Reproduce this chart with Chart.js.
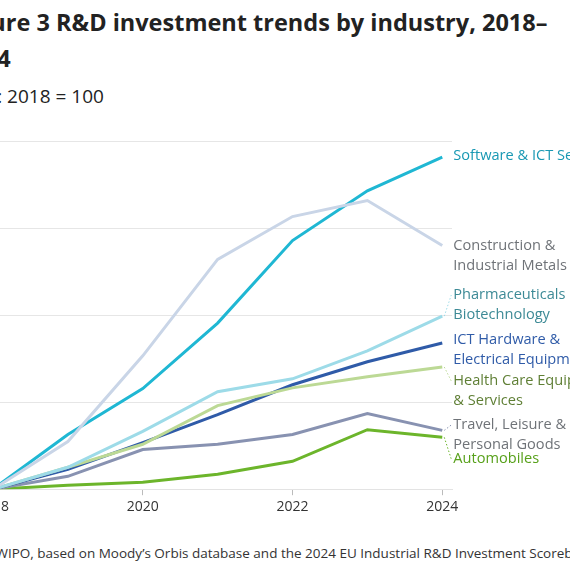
<!DOCTYPE html>
<html>
<head>
<meta charset="utf-8">
<script src="https://cdn.jsdelivr.net/npm/chart.js"></script>
<style>
  body { margin: 0; width: 570px; height: 570px; overflow: hidden; position: relative; background: #fff; font-family: "Open Sans", sans-serif; color: #222; }
  .t { position: absolute; white-space: nowrap; }
  #title { left: -43px; top: 4px; font-size: 23.5px; font-weight: 700; line-height: 36px; }
  #sub { left: -52px; top: 83px; font-size: 19px; }
  #src { left: -55px; top: 544px; font-size: 13.5px; color: #333; }
  #wrap { position: absolute; left: -26px; top: 131px; width: 610px; height: 400px; }
</style>
</head>
<body>
<div class="t" id="title">Figure 3 R&amp;D investment trends by industry, 2018–<br>2024</div>
<div class="t" id="sub">Index: 2018 = 100</div>
<div class="t" id="src">Source: WIPO, based on Moody’s Orbis database and the 2024 EU Industrial R&amp;D Investment Scoreboard.</div>
<div id="wrap"><canvas id="c"></canvas></div>
<script>
const years = [2018, 2019, 2020, 2021, 2022, 2023, 2024];
const software     = [100, 115.7, 128.9, 147.7, 171.4, 185.7, 195.4];
const construction = [100, 113.7, 138.3, 166.0, 178.3, 182.9, 170.0];
const pharma       = [100, 106.3, 116.6, 128.0, 131.7, 139.7, 149.7];
const ictHardware  = [100, 105.7, 113.4, 121.4, 130.0, 136.6, 142.0];
const healthCare   = [100, 106.3, 112.9, 124.0, 129.1, 132.3, 135.1];
const travel       = [100, 103.7, 111.4, 112.9, 115.7, 121.7, 116.9];
const automobiles  = [100, 101.1, 102.0, 104.3, 108.0, 117.1, 114.9];

const series = [
  { name: ['Construction &', 'Industrial Metals'], data: construction, color: '#c9d5e7', text: '#6f7378', ly: 246 },
  { name: ['Software & ICT Services'], data: software, color: '#1fb7d3', text: '#1898b3', ly: 156 },
  { name: ['Pharmaceuticals &', 'Biotechnology'], data: pharma, color: '#9ddbe8', text: '#3d8a96', ly: 295 },
  { name: ['Health Care Equipment', '& Services'], data: healthCare, color: '#bcd995', text: '#5f7f35', ly: 381 },
  { name: ['ICT Hardware &', 'Electrical Equipment'], data: ictHardware, color: '#2f5ba8', text: '#2f5ba8', ly: 340 },
  { name: ['Travel, Leisure &', 'Personal Goods'], data: travel, color: '#8892b1', text: '#6f7378', ly: 425 },
  { name: ['Automobiles'], data: automobiles, color: '#6cb52b', text: '#58a11b', ly: 459 }
];

const labelPlugin = {
  id: 'endLabels',
  afterDatasetsDraw(chart) {
    const ctx = chart.ctx;
    const top = chart.canvas.getBoundingClientRect().top;
    ctx.save();
    ctx.font = '14.6px "Open Sans"';
    ctx.textBaseline = 'middle';
    chart.data.datasets.forEach((ds, i) => {
      const s = series[i];
      const meta = chart.getDatasetMeta(i);
      const last = meta.data[meta.data.length - 1];
      const lx = last.x + 11;
      const ly = s.ly - top;
      if (Math.abs(ly - last.y) > 4) {
        ctx.strokeStyle = s.color;
        ctx.lineWidth = 1;
        ctx.setLineDash([1.5, 2]);
        ctx.beginPath();
        ctx.moveTo(last.x + 2, last.y);
        ctx.lineTo(lx - 2, ly);
        ctx.stroke();
        ctx.setLineDash([]);
      }
      ctx.fillStyle = s.text;
      s.name.forEach((line, k) => ctx.fillText(line, lx, ly + k * 20));
    });
    ctx.restore();
  }
};

new Chart(document.getElementById('c'), {
  type: 'line',
  data: {
    datasets: series.map(s => ({
      label: s.name.join(' '),
      data: years.map((y, i) => ({ x: y, y: s.data[i] })),
      borderColor: s.color,
      borderWidth: 3,
      pointRadius: 0,
      tension: 0
    }))
  },
  options: {
    responsive: true,
    maintainAspectRatio: false,
    animation: false,
    layout: { padding: { left: 10, right: 132, top: 10, bottom: 13 } },
    plugins: { legend: { display: false }, tooltip: { enabled: false } },
    scales: {
      x: {
        type: 'linear', min: 2018, max: 2024.13,
        afterBuildTicks: ax => { ax.ticks = [2018, 2020, 2022, 2024].map(v => ({ value: v })); },
        ticks: { color: '#333', font: { family: 'Open Sans', size: 14 }, callback: v => String(v) },
        grid: { drawOnChartArea: false, tickLength: 6, color: '#bbb' },
        border: { color: '#e3e3e3' }
      },
      y: {
        min: 100, max: 200,
        ticks: { display: false, stepSize: 25 },
        grid: { color: '#e6e6e6', drawTicks: false },
        border: { display: false }
      }
    }
  },
  plugins: [labelPlugin]
});
</script>
</body>
</html>
